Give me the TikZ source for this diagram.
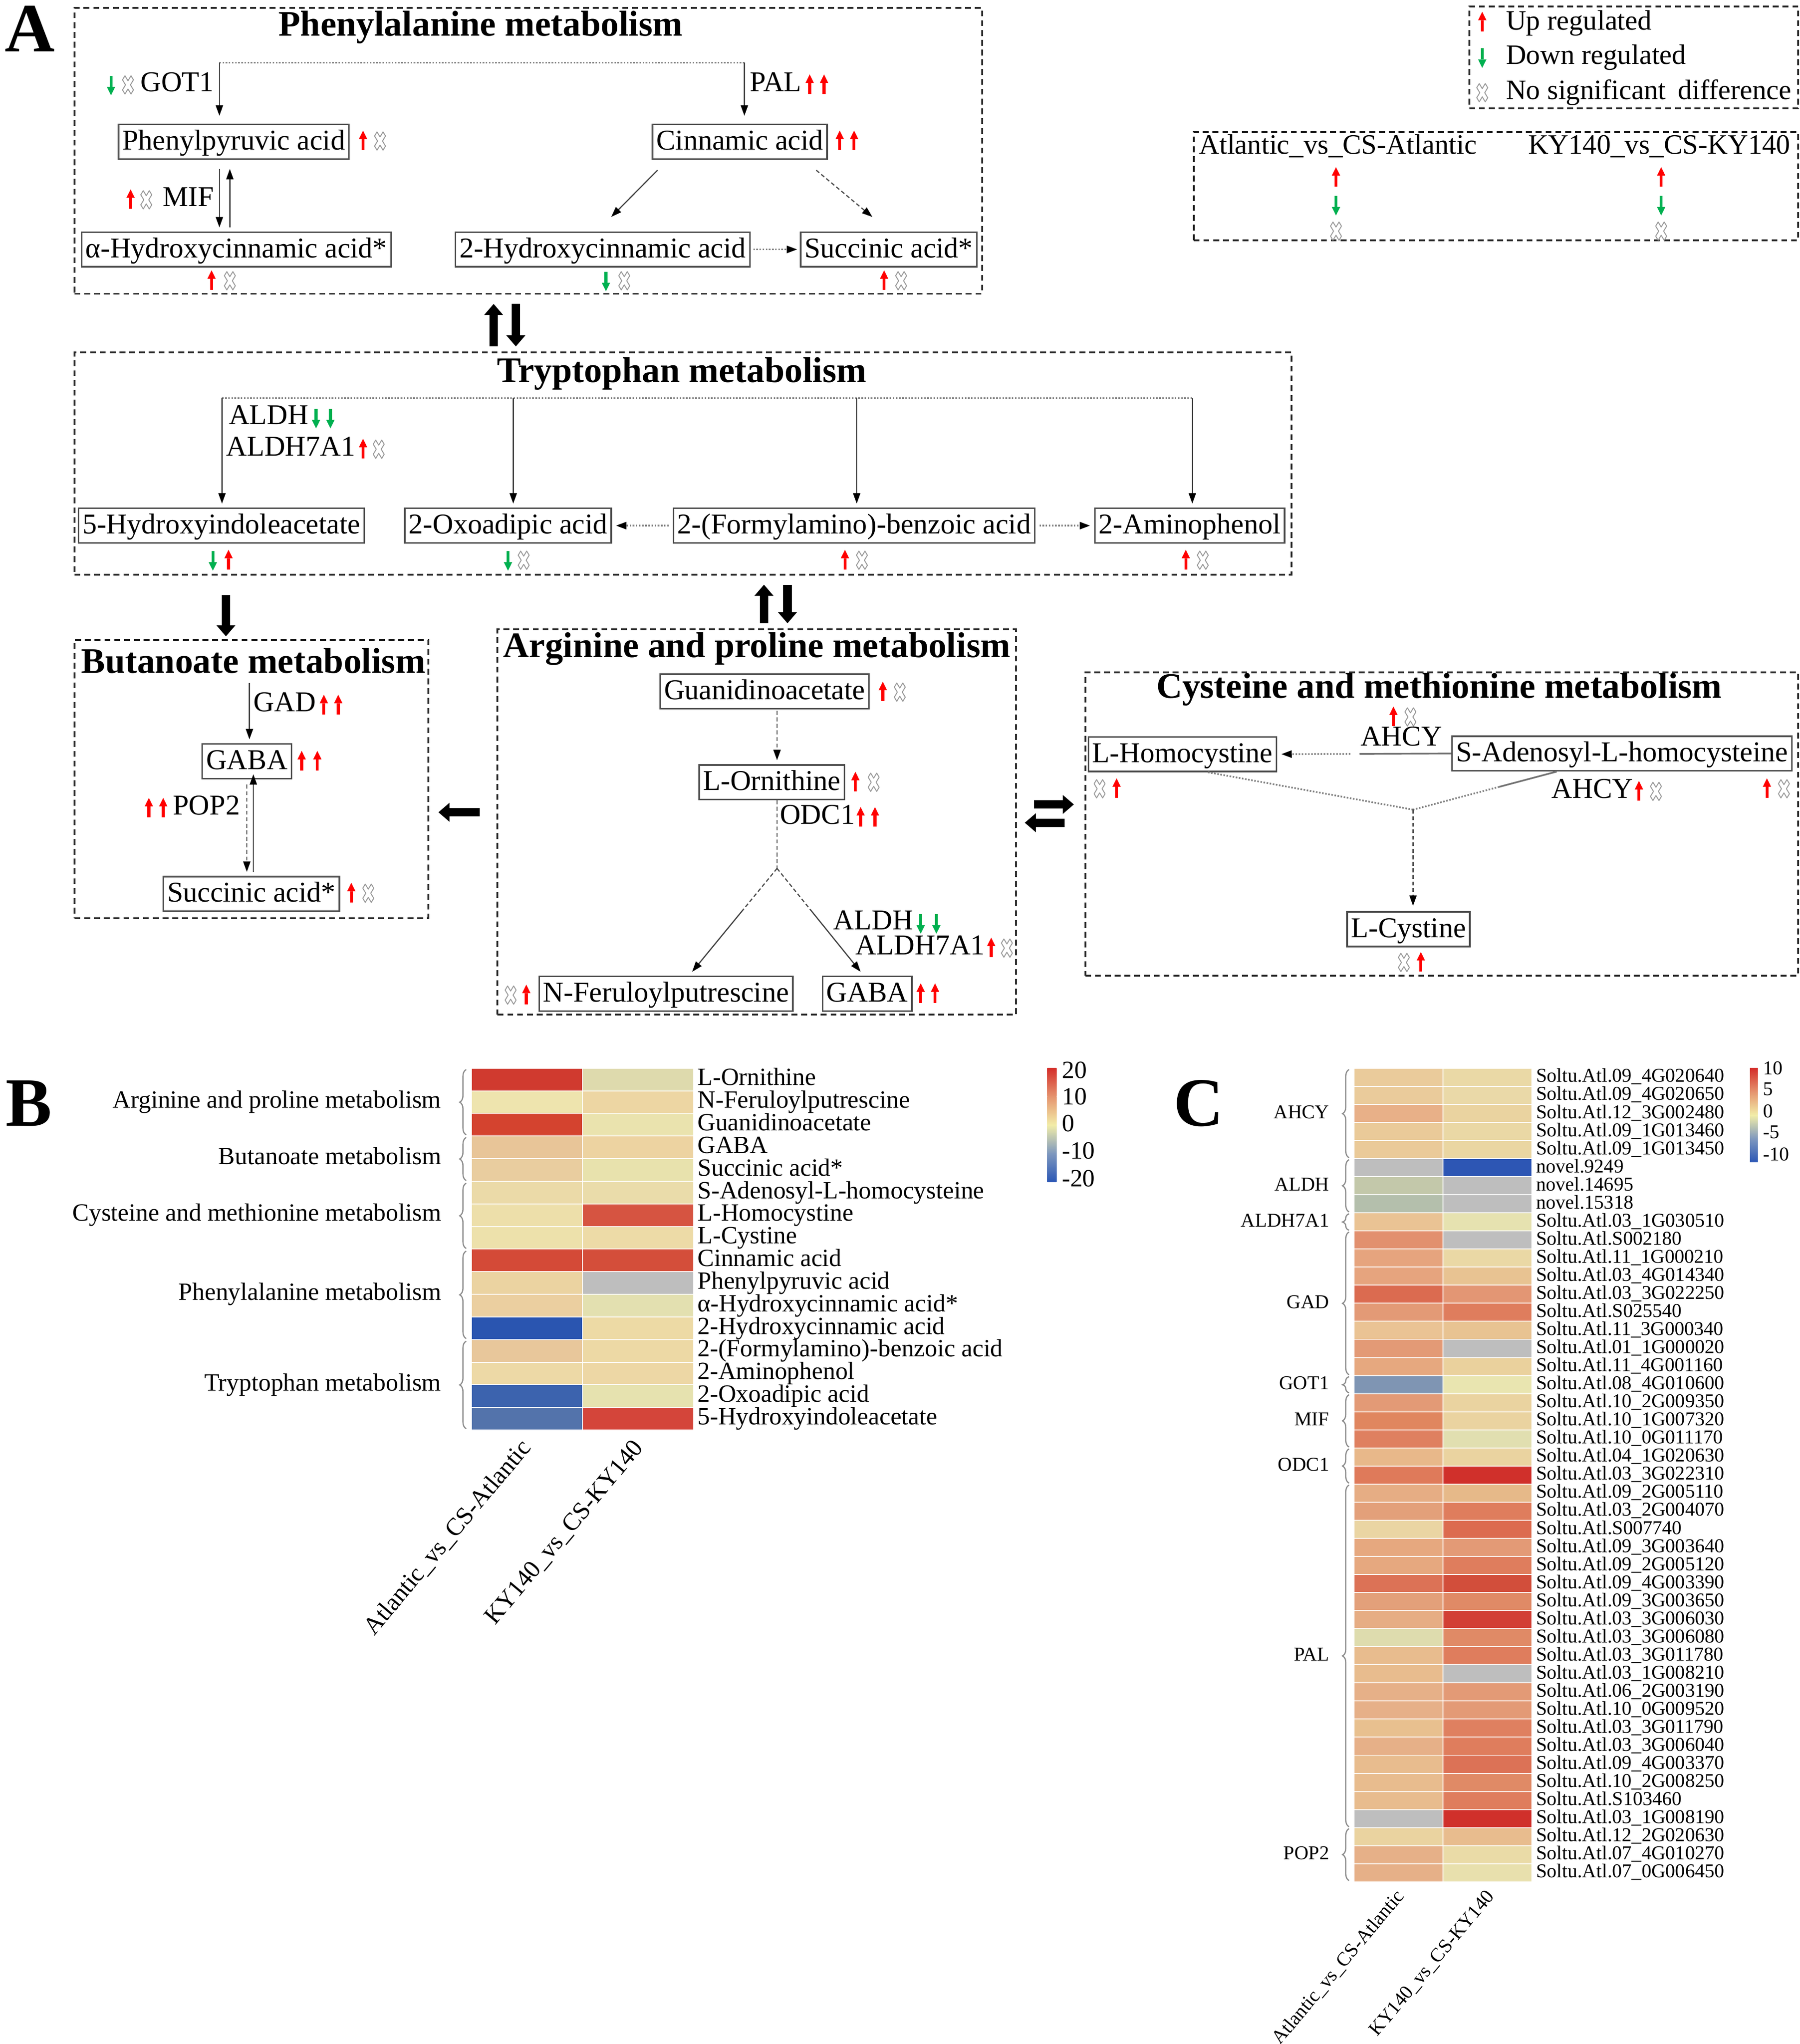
\documentclass[tikz,border=0pt]{standalone}
\usepackage{fontspec}
\setmainfont{Liberation Serif}
\usetikzlibrary{arrows.meta,calc,decorations.pathreplacing}
\definecolor{upred}{HTML}{FF0000}
\definecolor{dngreen}{HTML}{00B050}
\definecolor{nsdgray}{HTML}{9A9A9A}
\definecolor{cbR}{HTML}{D42E2A}
\definecolor{cbP}{HTML}{E5936E}
\definecolor{cbY}{HTML}{F2EDA8}
\definecolor{cbG}{HTML}{7E98BE}
\definecolor{cbB}{HTML}{2B57B5}
\newcommand{\upsym}[2]{\pic at (#1,#2) {upar};}
\newcommand{\dnsym}[2]{\pic at (#1,#2) {dnar};}
\newcommand{\nssym}[2]{\pic at (#1,#2) {nsd};}
\tikzset{
  panelbox/.style={draw=black!85, line width=1.4pt, dash pattern=on 4.5pt off 3pt, inner sep=0pt},
  fA/.style={font=\fontsize{22}{24}\selectfont, text height=15pt, text depth=5pt},
  mbox/.style={font=\fontsize{22}{24}\selectfont, text height=16.5pt, text depth=4pt, draw=black!70, line width=1.2pt, inner xsep=3pt, inner ysep=3pt},
  lab/.style={fA, inner sep=0pt},
  lab21/.style={font=\fontsize{21.5}{24}\selectfont, text height=15pt, text depth=5pt, inner sep=0pt},
  ttl/.style={inner sep=0pt, font=\fontsize{27.5}{30}\selectfont\bfseries},
  panl/.style={inner sep=0pt, font=\fontsize{53}{53}\selectfont\bfseries},
  conn/.style={draw=black!75, line width=0.9pt},
  arrtip/.style={-{Triangle[length=8pt,width=5.5pt,black]}},
  arr/.style={conn, arrtip},
  dotl/.style={draw=black!50, line width=1.3pt, dash pattern=on 1.2pt off 1.2pt},
  dashl/.style={draw=black!70, line width=0.9pt, dash pattern=on 3pt off 2pt},
  bigarr/.style={draw=black, line width=6.5pt, -{Triangle[length=8.5pt,width=14pt]}},
  cell/.style={draw=white, line width=0.7pt},
  brc/.style={draw=black!45, line width=0.9pt, decorate, decoration={brace, amplitude=5pt}},
  fB/.style={font=\fontsize{19}{21}\selectfont, inner sep=0pt, text height=13pt, text depth=4pt},
  fC/.style={font=\fontsize{15}{17}\selectfont, inner sep=0pt, text height=10.5pt, text depth=3pt},
  upar/.pic={\fill[upred] (-1.1,7) rectangle (1.1,-1.5); \fill[upred] (-3.2,-1.5) -- (0,-8) -- (3.2,-1.5) -- cycle;},
  dnar/.pic={\fill[dngreen] (-1.1,-7) rectangle (1.1,1.5); \fill[dngreen] (-3.2,1.5) -- (0,8) -- (3.2,1.5) -- cycle;},
  nsd/.pic={\draw[nsdgray, line width=0.7pt, line join=round] (-4.2,3.85) -- (-2.31,7) -- (0,3.15) -- (2.31,7) -- (4.2,3.85) -- (1.89,0) -- (4.2,-3.85) -- (2.31,-7) -- (0,-3.15) -- (-2.31,-7) -- (-4.2,-3.85) -- (-1.89,0) -- cycle;},
}
\begin{document}
\begin{tikzpicture}[x=1pt,y=-1pt]
\fill[white] (0,0) rectangle (1378,1565.2);
\useasboundingbox (0,0) rectangle (1378,1565.2);

% ---------------- Panel A ----------------
\node[panl] (pA) at (23,22) {A};

% Phenylalanine
\node[panelbox, minimum width=695pt, minimum height=219pt] (phe) at (404.5,115.5) {};
\node[ttl] (phet) at (368,21) {Phenylalanine metabolism};
\node[mbox] (pp) at (179,108.5) {Phenylpyruvic acid};
\node[mbox] (ci) at (566.5,108.5) {Cinnamic acid};
\node[mbox] (ah) at (181,191) {α-Hydroxycinnamic acid*};
\node[mbox] (h2) at (461.5,191) {2-Hydroxycinnamic acid};
\node[mbox] (sa) at (680.5,191) {Succinic acid*};
\coordinate (pt1) at (168,48);
\coordinate (pt2) at (570,48);
\draw[dotl] (pt1) -- (pt2);
\draw[arr, shorten >=6pt] (pt1) -- (pt1 |- pp.north);
\draw[arr, shorten >=6pt] (pt2) -- (pt2 |- ci.north);
\node[lab, anchor=east] (got) at (164,65) {GOT1};
\dnsym{85}{65}\nssym{98}{65}
\node[lab, anchor=west] (pal) at (574,65) {PAL};
\upsym{620}{65}\upsym{631}{65}
\upsym{278}{108}\nssym{291}{108}
\upsym{643}{108}\upsym{654}{108}
\node[lab, anchor=east] (mif) at (164,153) {MIF};
\upsym{100}{153}\nssym{112}{153}
\draw[arr] ($(pp.south)+(-11,7)$) -- ($(ah.north)+(-13,-3)$);
\draw[arr] ($(ah.north)+(-5,-3)$) -- ($(pp.south)+(-3,7)$);
\draw[arr] ($(ci.south)+(-63,8)$) -- ($(h2.north)+(6.5,-11)$);
\draw[dashl, arrtip] ($(ci.south)+(58.5,8)$) -- ($(sa.north)+(-12.5,-11)$);
\draw[dotl, arrtip, shorten <=2pt, shorten >=2pt] (h2.east) -- (sa.west);
\upsym{162}{215}\nssym{176}{215}
\dnsym{464}{215}\nssym{478}{215}
\upsym{677}{215}\nssym{690}{215}

% Tryptophan
\node[panelbox, minimum width=932pt, minimum height=170pt] (trp) at (523,355) {};
\node[ttl] (trpt) at (522,286) {Tryptophan metabolism};
\node[mbox] (hy5) at (169.5,402.5) {5-Hydroxyindoleacetate};
\node[mbox] (oxo) at (389,402.5) {2-Oxoadipic acid};
\node[mbox] (frm) at (654,402.5) {2-(Formylamino)-benzoic acid};
\node[mbox] (amp) at (911,402.5) {2-Aminophenol};
\coordinate (tb1) at (170,305);
\coordinate (tb2) at (393,305);
\coordinate (tb3) at (656,305);
\coordinate (tb4) at (913,305);
\draw[dotl] (tb1) -- (tb4);
\draw[arr, shorten >=3pt] (tb1) -- (tb1 |- hy5.north);
\draw[arr, shorten >=3pt] (tb2) -- (tb2 |- oxo.north);
\draw[arr, shorten >=3pt] (tb3) -- (tb3 |- frm.north);
\draw[arr, shorten >=3pt] (tb4) -- (tb4 |- amp.north);
\node[lab, anchor=west] (aldh1) at (175,320) {ALDH};
\dnsym{242}{320}\dnsym{253}{320}
\node[lab, anchor=west] (aldh7a) at (173,344) {ALDH7A1};
\upsym{278}{344}\nssym{290}{344}
\draw[dotl, arrtip, shorten <=3pt, shorten >=3pt] (frm.west) -- (oxo.east);
\draw[dotl, arrtip, shorten <=3pt, shorten >=3pt] (frm.east) -- (amp.west);
\dnsym{163}{429}\upsym{175}{429}
\dnsym{389}{429}\nssym{401}{429}
\upsym{647}{429}\nssym{660}{429}
\upsym{908}{429}\nssym{921}{429}

% Butanoate
\node[panelbox, minimum width=271pt, minimum height=213pt] (but) at (192.5,596.5) {};
\node[ttl] (butt) at (194,506) {Butanoate metabolism};
\node[mbox] (gaba1) at (189,583) {GABA};
\node[mbox] (suc2) at (192.5,684.5) {Succinic acid*};
\coordinate (bst) at (191,523);
\draw[arr, shorten >=3pt] (bst) -- (bst |- gaba1.north);
\node[lab, anchor=west] (gad) at (194,540) {GAD};
\upsym{248}{540}\upsym{259}{540}
\upsym{231}{583}\upsym{243}{583}
\node[lab, anchor=east] (pop) at (184,619) {POP2};
\upsym{114}{619}\upsym{125}{619}
\draw[arr] ($(suc2.north)+(1.5,-3)$) -- ($(gaba1.south)+(5,-4)$);
\draw[dashl, arrtip] ($(gaba1.south)+(0,4)$) -- ($(suc2.north)+(-3.5,-3)$);
\upsym{269}{684}\nssym{282}{684}

% Arginine and proline
\node[panelbox, minimum width=397pt, minimum height=295pt] (arg) at (579.5,629.5) {};
\node[ttl] (argt) at (579.5,497) {Arginine and proline metabolism};
\node[mbox] (guan) at (585.5,529.5) {Guanidinoacetate};
\node[mbox] (orn) at (591,599) {L-Ornithine};
\coordinate (aj) at (595,665);
\draw[dashl, arrtip] ($(guan.south)+(9.5,1)$) -- ($(orn.north)+(4,-3)$);
\draw[dashl] ($(orn.south)+(4,0)$) -- (aj);
\node[lab, anchor=west] (odc) at (597,626) {ODC1};
\upsym{659}{626}\upsym{670}{626}
\node[mbox] (fer) at (510,761) {N-Feruloylputrescine};
\node[mbox] (gaba2) at (664,761) {GABA};
\coordinate (fe) at ($(fer.north)+(20,-3)$);
\coordinate (ge) at ($(gaba2.north)+(-5,-3)$);
\draw[dashl] (aj) -- ($(aj)!0.4!(fe)$);
\draw[arr] ($(aj)!0.4!(fe)$) -- (fe);
\draw[dashl] (aj) -- ($(aj)!0.4!(ge)$);
\draw[arr] ($(aj)!0.4!(ge)$) -- (ge);
\node[lab, anchor=west] (aldh2) at (638,707) {ALDH};
\dnsym{705}{707}\dnsym{717}{707}
\node[lab, anchor=west] (aldh7b) at (655,726) {ALDH7A1};
\upsym{759}{726}\nssym{771}{726}
\upsym{676}{530}\nssym{689}{530}
\upsym{655}{599}\nssym{669}{599}
\nssym{391}{762}\upsym{403}{762}
\upsym{705}{761}\upsym{716}{761}

% Cysteine and methionine
\node[panelbox, minimum width=546pt, minimum height=232pt] (cys) at (1104,631) {};
\node[ttl] (cyst) at (1102,528) {Cysteine and methionine metabolism};
\node[mbox] (hcy) at (905.5,577.5) {L-Homocystine};
\node[mbox] (sah) at (1242,577) {S-Adenosyl-L-homocysteine};
\node[mbox] (lcys) at (1078.5,711.5) {L-Cystine};
\node[lab] (ahcy1) at (1073,566) {AHCY};
\upsym{1067}{549}\nssym{1080}{549}
\coordinate (cm1) at (1041,577.3);
\coordinate (cm2) at (1034,577.3);
\draw[conn, draw=black!55, line width=1.3pt] (sah.west) -- (cm1);
\draw[dotl, arrtip, shorten >=3pt] (cm2) -- (hcy.east);
\coordinate (cj) at (1082,620);
\draw[dotl] ($(hcy.south)+(19.5,0)$) -- (cj);
\coordinate (sb) at ($(sah.south)+(-50,0)$);
\draw[conn, draw=black!55, line width=1.3pt] (sb) -- ($(sb)!0.4!(cj)$);
\draw[dotl] ($(sb)!0.4!(cj)$) -- (cj);
\draw[dashl, arrtip] (cj) -- ($(lcys.north)+(3.5,-4)$);
\node[lab, anchor=west] (ahcy2) at (1188,606) {AHCY};
\upsym{1255}{606}\nssym{1268}{606}
\nssym{842}{604}\upsym{855}{604}
\upsym{1353}{604}\nssym{1366}{604}
\nssym{1075}{737}\upsym{1088}{737}

% big arrows between pathways
\draw[bigarr] ($(trp.north)+(-145,-4)$) -- ($(phe.south)+(-26.5,7)$);
\draw[bigarr] ($(phe.south)+(-9.5,7)$) -- ($(trp.north)+(-128,-4)$);
\draw[bigarr] ($(trp.south)+(-350,15)$) -- ($(but.north)+(-19.5,-2)$);
\draw[bigarr] ($(arg.north)+(5.5,-4)$) -- ($(trp.south)+(62,7)$);
\draw[bigarr] ($(trp.south)+(80,7)$) -- ($(arg.north)+(23.5,-4)$);
\draw[bigarr] ($(arg.west)+(-13,-7.5)$) -- ($(but.east)+(7,25.5)$);
\draw[bigarr] ($(arg.east)+(13,-13.5)$) -- ($(cys.west)+(-8,-15)$);
\draw[bigarr] ($(cys.west)+(-15,-1)$) -- ($(arg.east)+(6,0.5)$);

% Legends
\node[panelbox, minimum width=252pt, minimum height=78pt] (leg1) at (1251,44) {};
\upsym{1135}{17}
\node[lab21, anchor=west] (l1) at (1153,18) {Up regulated};
\dnsym{1135}{44}
\node[lab21, anchor=west] (l2) at (1153,44) {Down regulated};
\nssym{1135}{71}
\node[lab21, anchor=west] (l3) at (1153,71) {No significant\hspace{4pt} difference};
\node[panelbox, minimum width=463pt, minimum height=83pt] (leg2) at (1145.5,142.5) {};
\node[lab21, anchor=west] (lc1) at (918,113) {Atlantic\_vs\_CS-Atlantic};
\node[lab21, anchor=west] (lc2) at (1170,113) {KY140\_vs\_CS-KY140};
\upsym{1023}{136}\dnsym{1023}{157}\nssym{1023}{177}
\upsym{1272}{136}\dnsym{1272}{157}\nssym{1272}{177}

% ---------------- Panel B ----------------
\node[panl] (pB) at (22,845) {B};
\foreach \ca/\cb/\lbl [count=\i from 0] in {%
D03A2F/DEDAAD/L-Ornithine,%
EEE4AE/EDD6A3/N-Feruloylputrescine,%
D4432F/EAE3AE/Guanidinoacetate,%
E8C598/EDD3A1/GABA,%
E9CD9F/E8E2AD/Succinic acid*,%
EBDAA8/EADCAA/S-Adenosyl-L-homocysteine,%
EDDFAA/D65441/L-Homocystine,%
EDE1AB/EDDBA7/L-Cystine,%
D44A37/D44E3A/Cinnamic acid,%
EBD3A1/BEBEBE/Phenylpyruvic acid,%
EBCFA0/E3E0B0/α-Hydroxycinnamic acid*,%
2A55B0/EDDAA5/2-Hydroxycinnamic acid,%
E8C79B/EDD9A5/2-(Formylamino)-benzoic acid,%
EDD9A6/EDD7A5/2-Aminophenol,%
3C63AE/E6E2AF/2-Oxoadipic acid,%
5373AB/D4453A/5-Hydroxyindoleacetate}{
  \pgfmathsetmacro{\yt}{818+17.3125*\i}
  \pgfmathsetmacro{\yb}{818+17.3125*(\i+1)}
  \pgfmathsetmacro{\ym}{818+17.3125*(\i+0.5)}
  \edef\mydef{\noexpand\definecolor{tmpa}{HTML}{\ca}\noexpand\definecolor{tmpb}{HTML}{\cb}}\mydef
  \filldraw[cell, fill=tmpa] (361,\yt) rectangle (446,\yb);
  \filldraw[cell, fill=tmpb] (446,\yt) rectangle (531,\yb);
  \node[fB, anchor=west] (bl\i) at (534,\ym) {\lbl};
}
\draw[brc] (357,869) -- (357,819);
\draw[brc] (357,904) -- (357,871);
\draw[brc] (357,956) -- (357,906);
\draw[brc] (357,1025) -- (357,958);
\draw[brc] (357,1094) -- (357,1027);
\node[fB, anchor=east] (gb1) at (338,844) {Arginine and proline metabolism};
\node[fB, anchor=east] (gb2) at (338,887.3) {Butanoate metabolism};
\node[fB, anchor=east] (gb3) at (338,930.5) {Cysteine and methionine metabolism};
\node[fB, anchor=east] (gb4) at (338,991) {Phenylalanine metabolism};
\node[fB, anchor=east] (gb5) at (338,1060.4) {Tryptophan metabolism};
\node[fB, rotate=50, anchor=east] (bx1) at (404,1106) {Atlantic\_vs\_CS-Atlantic};
\node[fB, rotate=50, anchor=east] (bx2) at (490,1106) {KY140\_vs\_CS-KY140};
% colour bar B
\shade[top color=cbR, bottom color=cbP] (802,818) rectangle (809,839.8);
\shade[top color=cbP, bottom color=cbY] (802,839.7) rectangle (809,861.6);
\shade[top color=cbY, bottom color=cbG] (802,861.5) rectangle (809,883.3);
\shade[top color=cbG, bottom color=cbB] (802,883.2) rectangle (809,905);
\node[fB, anchor=west] (bk1) at (813,821) {20};
\node[fB, anchor=west] (bk2) at (813,841.5) {10};
\node[fB, anchor=west] (bk3) at (813,862) {0};
\node[fB, anchor=west] (bk4) at (813,883) {-10};
\node[fB, anchor=west] (bk5) at (813,904) {-20};

% ---------------- Panel C ----------------
\node[panl] (pC) at (918,845) {C};
\foreach \ca/\cb/\lbl [count=\i from 0] in {%
EACB9B/EAD9A6/Soltu.Atl.09\_4G020640,%
EACB9B/EAD9A8/Soltu.Atl.09\_4G020650,%
E8B088/EAD3A0/Soltu.Atl.12\_3G002480,%
EACA99/EAD8A5/Soltu.Atl.09\_1G013460,%
EACA99/EAD6A2/Soltu.Atl.09\_1G013450,%
BEBEBE/2D56B4/novel.9249,%
C3C8AA/BEBEBE/novel.14695,%
B4BFAC/BEBEBE/novel.15318,%
EAC394/E6E2B0/Soltu.Atl.03\_1G030510,%
E2906E/BEBEBE/Soltu.Atl.S002180,%
E6A47E/EAD8A5/Soltu.Atl.11\_1G000210,%
E6A47E/E8C392/Soltu.Atl.03\_4G014340,%
DB6B50/E39674/Soltu.Atl.03\_3G022250,%
E39A76/DF7D5D/Soltu.Atl.S025540,%
EAC394/E8C392/Soltu.Atl.11\_3G000340,%
E39A76/BEBEBE/Soltu.Atl.01\_1G000020,%
E6A87F/EAD19D/Soltu.Atl.11\_4G001160,%
7F95B3/E9E5B0/Soltu.Atl.08\_4G010600,%
E39A76/EAD3A0/Soltu.Atl.10\_2G009350,%
E0865F/EAD3A0/Soltu.Atl.10\_1G007320,%
DF8060/E1DFB0/Soltu.Atl.10\_0G011170,%
E8B88A/EAD3A0/Soltu.Atl.04\_1G020630,%
DF7A5A/D0302B/Soltu.Atl.03\_3G022310,%
E6AD84/E6B989/Soltu.Atl.09\_2G005110,%
E3A07A/DF7D5D/Soltu.Atl.03\_2G004070,%
EAD5A3/DC6B4F/Soltu.Atl.S007740,%
E6A87F/E39A76/Soltu.Atl.09\_3G003640,%
E6A87F/DF7D5D/Soltu.Atl.09\_2G005120,%
DC7256/D24E3B/Soltu.Atl.09\_4G003390,%
E3A07A/E08A66/Soltu.Atl.09\_3G003650,%
E6AD84/D23F35/Soltu.Atl.03\_3G006030,%
DEDCAE/E08A66/Soltu.Atl.03\_3G006080,%
E8BC8E/DF7D5D/Soltu.Atl.03\_3G011780,%
E8BC8E/BEBEBE/Soltu.Atl.03\_1G008210,%
E6B088/E39A76/Soltu.Atl.06\_2G003190,%
E6B088/E39A76/Soltu.Atl.10\_0G009520,%
E8C08F/DF8060/Soltu.Atl.03\_3G011790,%
E6B088/DF7D5D/Soltu.Atl.03\_3G006040,%
E8BC8E/DC7256/Soltu.Atl.09\_4G003370,%
E8BC8E/E08A66/Soltu.Atl.10\_2G008250,%
E8BC8E/DF7D5D/Soltu.Atl.S103460,%
BEBEBE/D0302B/Soltu.Atl.03\_1G008190,%
EAD3A0/E8BC8E/Soltu.Atl.12\_2G020630,%
E6B088/EADBA7/Soltu.Atl.07\_4G010270,%
E6B088/E8E0AD/Soltu.Atl.07\_0G006450}{
  \pgfmathsetmacro{\yt}{818+13.8444*\i}
  \pgfmathsetmacro{\yb}{818+13.8444*(\i+1)}
  \pgfmathsetmacro{\ym}{818+13.8444*(\i+0.5)}
  \edef\mydef{\noexpand\definecolor{tmpa}{HTML}{\ca}\noexpand\definecolor{tmpb}{HTML}{\cb}}\mydef
  \filldraw[cell, fill=tmpa] (1037,\yt) rectangle (1105,\yb);
  \filldraw[cell, fill=tmpb] (1105,\yt) rectangle (1173,\yb);
  \node[fC, anchor=west] (cl\i) at (1176,\ym) {\lbl};
}
\draw[brc] (1033,886.5) -- (1033,819);
\draw[brc] (1033,928) -- (1033,888);
\draw[brc] (1033,942) -- (1033,929.5);
\draw[brc] (1033,1052.7) -- (1033,943.4);
\draw[brc] (1033,1066.5) -- (1033,1054.2);
\draw[brc] (1033,1108) -- (1033,1068);
\draw[brc] (1033,1135.7) -- (1033,1109.5);
\draw[brc] (1033,1398.8) -- (1033,1137.2);
\draw[brc] (1033,1440) -- (1033,1400.3);
\node[fC, anchor=east] (gc1) at (1018,852.6) {AHCY};
\node[fC, anchor=east] (gc2) at (1018,908) {ALDH};
\node[fC, anchor=east] (gc3) at (1018,935.7) {ALDH7A1};
\node[fC, anchor=east] (gc4) at (1018,998) {GAD};
\node[fC, anchor=east] (gc5) at (1018,1060.3) {GOT1};
\node[fC, anchor=east] (gc6) at (1018,1088) {MIF};
\node[fC, anchor=east] (gc7) at (1018,1122.6) {ODC1};
\node[fC, anchor=east] (gc8) at (1018,1268) {PAL};
\node[fC, anchor=east] (gc9) at (1018,1420.3) {POP2};
\node[fC, rotate=50, anchor=east] (cx1) at (1073,1450) {Atlantic\_vs\_CS-Atlantic};
\node[fC, rotate=50, anchor=east] (cx2) at (1142,1450) {KY140\_vs\_CS-KY140};
% colour bar C
\shade[top color=cbR, bottom color=cbP] (1340,818) rectangle (1346,836.1);
\shade[top color=cbP, bottom color=cbY] (1340,836) rectangle (1346,854.1);
\shade[top color=cbY, bottom color=cbG] (1340,854) rectangle (1346,872.1);
\shade[top color=cbG, bottom color=cbB] (1340,872) rectangle (1346,890);
\node[fC, anchor=west] (ck1) at (1350,819) {10};
\node[fC, anchor=west] (ck2) at (1350,835) {5};
\node[fC, anchor=west] (ck3) at (1350,852) {0};
\node[fC, anchor=west] (ck4) at (1350,868) {-5};
\node[fC, anchor=west] (ck5) at (1350,885) {-10};
\end{tikzpicture}
\end{document}
